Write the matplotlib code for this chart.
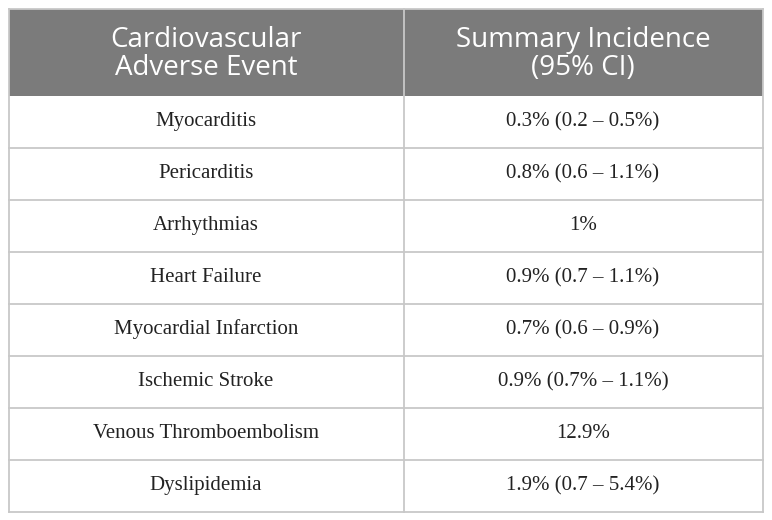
import matplotlib.pyplot as plt
from matplotlib.patches import Rectangle

headers = ["Cardiovascular\nAdverse Event", "Summary Incidence\n(95% CI)"]
events = ["Myocarditis", "Pericarditis", "Arrhythmias", "Heart Failure",
          "Myocardial Infarction", "Ischemic Stroke", "Venous Thromboembolism",
          "Dyslipidemia"]
incidence = ["0.3% (0.2 \u2013 0.5%)", "0.8% (0.6 \u2013 1.1%)", "1%",
             "0.9% (0.7 \u2013 1.1%)", "0.7% (0.6 \u2013 0.9%)",
             "0.9% (0.7% \u2013 1.1%)", "12.9%", "1.9% (0.7 \u2013 5.4%)"]

# layout in pixels
left, mid, right = 8.5, 403.5, 762.5
top, head_bot = 8.5, 95.5
row_h = 52
grid = "#c8c8c8"

fig = plt.figure(figsize=(7.72, 5.20), dpi=100)
ax = fig.add_axes([0, 0, 1, 1])
ax.set_xlim(0, 772)
ax.set_ylim(520, 0)
ax.axis('off')

bottom = head_bot + row_h * len(events)

# header
ax.add_patch(Rectangle((left, top), right - left, head_bot - top,
                       facecolor="#7b7b7b", edgecolor="none"))
for x0, x1, h in [(left, mid, headers[0]), (mid, right, headers[1])]:
    ax.text((x0 + x1) / 2, (top + head_bot) / 2 + 2, h, ha='center', va='center',
            color='white', fontsize=20, family='Open Sans', linespacing=1.04)

# body rows
for i, (ev, inc) in enumerate(zip(events, incidence)):
    yc = head_bot + row_h * (i + 0.5)
    ax.text((left + mid) / 2, yc, ev, ha='center', va='center',
            fontsize=15, family='Liberation Serif', color='#222222')
    ax.text((mid + right) / 2, yc, inc, ha='center', va='center',
            fontsize=15, family='Liberation Serif', color='#222222')
    if i > 0:
        y = head_bot + row_h * i
        ax.plot([left, right], [y, y], color=grid, lw=1.3)

# borders
ax.plot([left, right], [top, top], color=grid, lw=1.3)
ax.plot([left, right], [bottom, bottom], color=grid, lw=1.3)
ax.plot([left, left], [top, bottom], color=grid, lw=1.3)
ax.plot([right, right], [top, bottom], color=grid, lw=1.3)
ax.plot([mid, mid], [top, bottom], color=grid, lw=1.3)

fig.savefig("out.png", dpi=100)
